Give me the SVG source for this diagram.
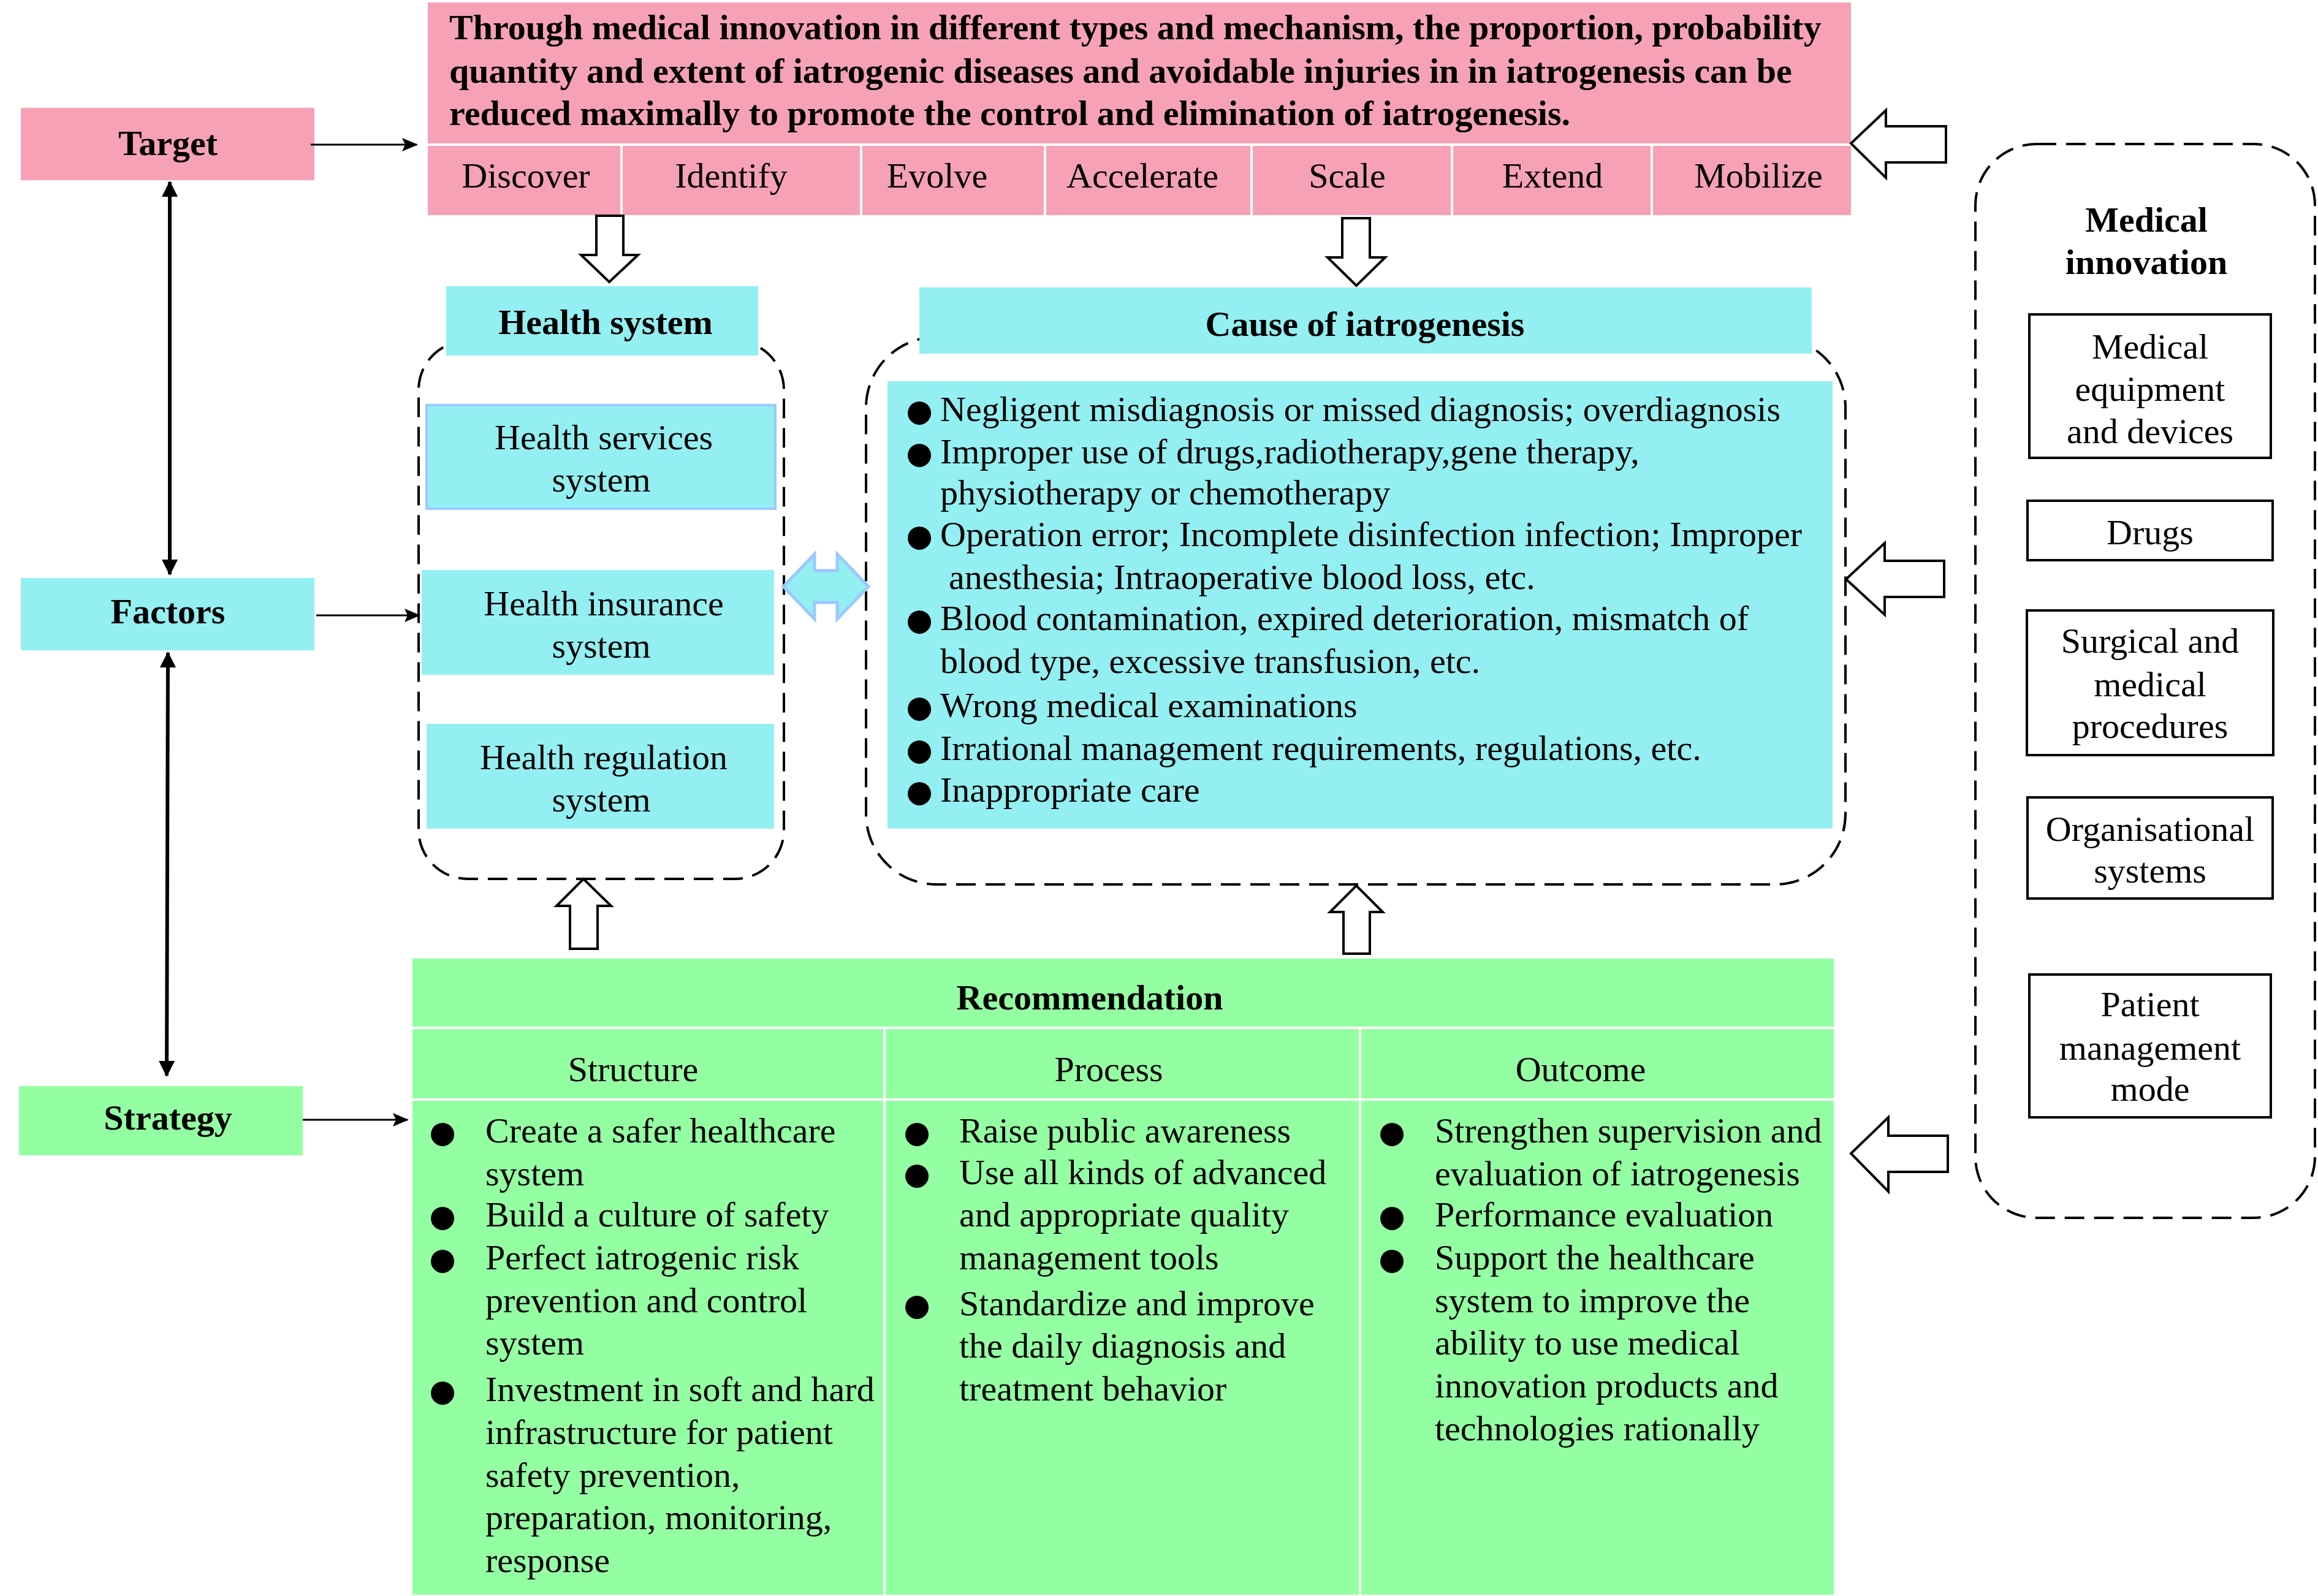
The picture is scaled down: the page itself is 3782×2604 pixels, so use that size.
<svg xmlns="http://www.w3.org/2000/svg" width="3782" height="2604" viewBox="0 0 3782 2604">
<defs>
<style>
text{font-family:"Liberation Serif","Times New Roman",serif;font-size:58px;fill:#000}
.b{font-weight:bold}
.m{text-anchor:middle}
.bul{font-family:"DejaVu Sans",sans-serif;font-size:50px;text-anchor:middle}
.pink{fill:#F7A1B6}
.cyan{fill:#93EFF1}
.green{fill:#94FFA2}
.wl{stroke:#fff;stroke-width:4;fill:none}
.dash{fill:none;stroke:#000;stroke-width:4;stroke-dasharray:32 16}
.box{fill:#fff;stroke:#000;stroke-width:4}
.blk{fill:#fff;stroke:#000;stroke-width:4;stroke-linejoin:miter}
.thin{stroke:#000;stroke-width:3;fill:none}
.thick{stroke:#000;stroke-width:6;fill:none}
</style>
<marker id="ah" markerUnits="userSpaceOnUse" viewBox="0 0 26 22" refX="24" refY="11" markerWidth="26" markerHeight="22" orient="auto">
<path d="M0,0 L26,11 L0,22 L5,11 z" fill="#000"/>
</marker>
<marker id="ah2" markerUnits="userSpaceOnUse" viewBox="0 0 26 26" refX="24" refY="13" markerWidth="26" markerHeight="26" orient="auto-start-reverse">
<path d="M0,0 L26,13 L0,26 z" fill="#000"/>
</marker>
</defs>
<rect width="3782" height="2604" fill="#fff"/>

<!-- Left labels -->
<g id="target">
<rect class="pink" x="34" y="176" width="479" height="118"/>
<text class="b m" x="274" y="253">Target</text>
</g>
<g id="factors">
<rect class="cyan" x="34" y="943" width="479" height="118"/>
<text class="b m" x="274" y="1017">Factors</text>
</g>
<g id="strategy">
<rect class="green" x="31" y="1772" width="463" height="113"/>
<text class="b m" x="274" y="1843">Strategy</text>
</g>

<!-- Top target box -->
<g id="target-box">
<rect class="pink" x="698" y="4" width="2322" height="347"/>
<line class="wl" x1="698" y1="236" x2="3020" y2="236"/>
<line class="wl" x1="1014" y1="236" x2="1014" y2="351"/>
<line class="wl" x1="1405" y1="236" x2="1405" y2="351"/>
<line class="wl" x1="1705" y1="236" x2="1705" y2="351"/>
<line class="wl" x1="2042" y1="236" x2="2042" y2="351"/>
<line class="wl" x1="2369" y1="236" x2="2369" y2="351"/>
<line class="wl" x1="2695" y1="236" x2="2695" y2="351"/>
<text class="b" x="733" y="64">Through medical innovation in different types and mechanism, the proportion, probability</text>
<text class="b" x="733" y="135">quantity and extent of iatrogenic diseases and avoidable injuries in in iatrogenesis can be</text>
<text class="b" x="733" y="204">reduced maximally to promote the control and elimination of iatrogenesis.</text>
<text class="m" x="858" y="306">Discover</text>
<text class="m" x="1193" y="306">Identify</text>
<text class="m" x="1529" y="306">Evolve</text>
<text class="m" x="1864" y="306">Accelerate</text>
<text class="m" x="2198" y="306">Scale</text>
<text class="m" x="2533" y="306">Extend</text>
<text class="m" x="2869" y="306">Mobilize</text>
</g>

<!-- Health system -->
<g id="health-system">
<rect class="dash" x="683" y="556" width="596" height="878" rx="80" ry="80"/>
<rect class="cyan" x="728" y="467" width="509" height="113"/>
<text class="b m" x="988" y="545">Health system</text>
</g>
<g id="health-services">
<rect x="696" y="661" width="569" height="169" fill="#93EFF1" stroke="#9CC8FF" stroke-width="4"/>
<text class="m" x="985" y="733">Health services</text>
<text class="m" x="981" y="802">system</text>
</g>
<g id="health-insurance">
<rect class="cyan" x="688" y="930" width="575" height="171"/>
<text class="m" x="985" y="1004">Health insurance</text>
<text class="m" x="981" y="1073">system</text>
</g>
<g id="health-regulation">
<rect class="cyan" x="696" y="1181" width="567" height="171"/>
<text class="m" x="985" y="1255">Health regulation</text>
<text class="m" x="981" y="1324">system</text>
</g>

<!-- Cause of iatrogenesis -->
<g id="cause">
<rect class="dash" x="1413" y="550" width="1598" height="893" rx="115" ry="115"/>
<rect class="cyan" x="1500" y="469" width="1456" height="108"/>
<text class="b m" x="2227" y="548">Cause of iatrogenesis</text>
<rect class="cyan" x="1448" y="622" width="1542" height="730"/>
<text class="bul" x="1500" y="687">●</text>
<text x="1534" y="687">Negligent misdiagnosis or missed diagnosis; overdiagnosis</text>
<text class="bul" x="1500" y="756">●</text>
<text x="1534" y="756">Improper use of drugs,radiotherapy,gene therapy,</text>
<text x="1534" y="823">physiotherapy or chemotherapy</text>
<text class="bul" x="1500" y="891">●</text>
<text x="1534" y="891">Operation error; Incomplete disinfection infection; Improper</text>
<text x="1548" y="961">anesthesia; Intraoperative blood loss, etc.</text>
<text class="bul" x="1500" y="1028">●</text>
<text x="1534" y="1028">Blood contamination, expired deterioration, mismatch of</text>
<text x="1534" y="1098">blood type, excessive transfusion, etc.</text>
<text class="bul" x="1500" y="1170">●</text>
<text x="1534" y="1170">Wrong medical examinations</text>
<text class="bul" x="1500" y="1240">●</text>
<text x="1534" y="1240">Irrational management requirements, regulations, etc.</text>
<text class="bul" x="1500" y="1308">●</text>
<text x="1534" y="1308">Inappropriate care</text>
</g>

<!-- Medical innovation -->
<g id="medical-innovation">
<rect class="dash" x="3223" y="235" width="554" height="1752" rx="100" ry="100"/>
<text class="b m" x="3502" y="378">Medical</text>
<text class="b m" x="3502" y="447">innovation</text>
</g>
<g id="mi-equipment">
<rect class="box" x="3311" y="513" width="394" height="234"/>
<text class="m" x="3508" y="585">Medical</text>
<text class="m" x="3508" y="654">equipment</text>
<text class="m" x="3508" y="723">and devices</text>
</g>
<g id="mi-drugs">
<rect class="box" x="3308" y="817" width="400" height="97"/>
<text class="m" x="3508" y="888">Drugs</text>
</g>
<g id="mi-surgical">
<rect class="box" x="3307" y="996" width="402" height="236"/>
<text class="m" x="3508" y="1065">Surgical and</text>
<text class="m" x="3508" y="1136">medical</text>
<text class="m" x="3508" y="1204">procedures</text>
</g>
<g id="mi-organisational">
<rect class="box" x="3308" y="1301" width="400" height="165"/>
<text class="m" x="3508" y="1372">Organisational</text>
<text class="m" x="3508" y="1440">systems</text>
</g>
<g id="mi-patient">
<rect class="box" x="3311" y="1590" width="394" height="233"/>
<text class="m" x="3508" y="1658">Patient</text>
<text class="m" x="3508" y="1729">management</text>
<text class="m" x="3508" y="1796">mode</text>
</g>

<!-- Recommendation -->
<g id="recommendation">
<rect class="green" x="673" y="1564" width="2319" height="1038"/>
<line class="wl" x1="673" y1="1677" x2="2992" y2="1677"/>
<line class="wl" x1="673" y1="1794" x2="2992" y2="1794"/>
<line class="wl" x1="1443" y1="1677" x2="1443" y2="2602"/>
<line class="wl" x1="2219" y1="1677" x2="2219" y2="2602"/>
<text class="b m" x="1778" y="1647">Recommendation</text>
<text class="m" x="1033" y="1764">Structure</text>
<text class="m" x="1809" y="1764">Process</text>
<text class="m" x="2579" y="1764">Outcome</text>

<text class="bul" x="722" y="1864">●</text>
<text x="792" y="1864">Create a safer healthcare</text>
<text x="792" y="1934">system</text>
<text class="bul" x="722" y="2001">●</text>
<text x="792" y="2001">Build a culture of safety</text>
<text class="bul" x="722" y="2071">●</text>
<text x="792" y="2071">Perfect iatrogenic risk</text>
<text x="792" y="2141">prevention and control</text>
<text x="792" y="2210">system</text>
<text class="bul" x="722" y="2286">●</text>
<text x="792" y="2286">Investment in soft and hard</text>
<text x="792" y="2356">infrastructure for patient</text>
<text x="792" y="2426">safety prevention,</text>
<text x="792" y="2495">preparation, monitoring,</text>
<text x="792" y="2565">response</text>

<text class="bul" x="1496" y="1864">●</text>
<text x="1565" y="1864">Raise public awareness</text>
<text class="bul" x="1496" y="1932">●</text>
<text x="1565" y="1932">Use all kinds of advanced</text>
<text x="1565" y="2001">and appropriate quality</text>
<text x="1565" y="2071">management tools</text>
<text class="bul" x="1496" y="2146">●</text>
<text x="1565" y="2146">Standardize and improve</text>
<text x="1565" y="2215">the daily diagnosis and</text>
<text x="1565" y="2285">treatment behavior</text>

<text class="bul" x="2271" y="1864">●</text>
<text x="2341" y="1864">Strengthen supervision and</text>
<text x="2341" y="1934">evaluation of iatrogenesis</text>
<text class="bul" x="2271" y="2001">●</text>
<text x="2341" y="2001">Performance evaluation</text>
<text class="bul" x="2271" y="2071">●</text>
<text x="2341" y="2071">Support the healthcare</text>
<text x="2341" y="2141">system to improve the</text>
<text x="2341" y="2210">ability to use medical</text>
<text x="2341" y="2280">innovation products and</text>
<text x="2341" y="2350">technologies rationally</text>
</g>

<!-- Connectors -->
<g id="connectors">
<line class="thin" x1="507" y1="236" x2="680" y2="236" marker-end="url(#ah)"/>
<line class="thin" x1="516" y1="1004" x2="684" y2="1004" marker-end="url(#ah)"/>
<line class="thin" x1="494" y1="1827" x2="665" y2="1827" marker-end="url(#ah)"/>
<line class="thick" x1="277" y1="297" x2="277" y2="937" marker-start="url(#ah2)" marker-end="url(#ah2)"/>
<line class="thick" x1="274" y1="1065" x2="272" y2="1755" marker-start="url(#ah2)" marker-end="url(#ah2)"/>
<polygon class="blk" points="973,352 1017,352 1017,416 1041,416 994,460 948,416 973,416"/>
<polygon class="blk" points="2190,356 2235,356 2235,420 2260,420 2213,466 2166,420 2190,420"/>
<polygon class="blk" points="930,1548 975,1548 975,1478 997,1478 952,1434 908,1478 930,1478"/>
<polygon class="blk" points="2192,1556 2235,1556 2235,1488 2256,1488 2213,1445 2170,1488 2192,1488"/>
<polygon class="blk" points="3020,234 3077,180 3077,206 3175,206 3175,265 3077,265 3077,290"/>
<polygon class="blk" points="3012,945 3075,886 3075,915 3172,915 3172,974 3075,974 3075,1003"/>
<polygon class="blk" points="3020,1882 3081,1823 3081,1853 3178,1853 3178,1912 3081,1912 3081,1944"/>
<polygon points="1278,957 1329,904 1329,931 1366,931 1366,904 1417,957 1366,1010 1366,983 1329,983 1329,1010" fill="#93EFF1" stroke="#9CC8FF" stroke-width="5"/>
</g>
</svg>
